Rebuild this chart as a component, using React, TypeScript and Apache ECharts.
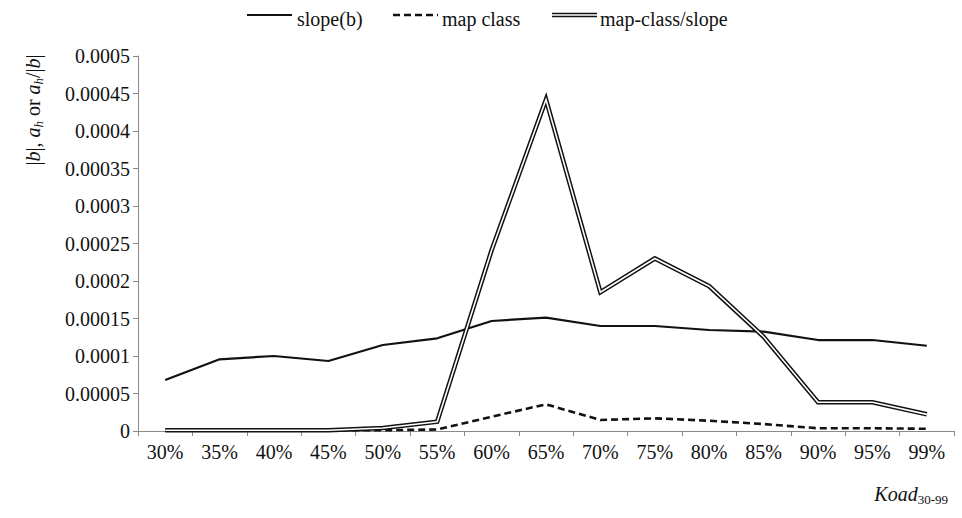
import React, { useEffect, useRef } from "react";
import * as echarts from "echarts";

const categories = ["30%", "35%", "40%", "45%", "50%", "55%", "60%", "65%", "70%", "75%", "80%", "85%", "90%", "95%", "99%"];
const slopeValues = [0.000068, 0.0000956, 0.0001, 0.0000933, 0.0001147, 0.0001236, 0.0001467, 0.0001512, 0.00014, 0.00014, 0.0001347, 0.0001324, 0.0001213, 0.0001213, 0.0001137];
const mapClassValues = [0.000001, 0.000001, 0.000001, 0.000001, 0.000001, 0.000002, 0.000019, 0.0000356, 0.0000147, 0.0000169, 0.0000137, 0.0000093, 0.0000036, 0.0000036, 0.000003];
const ratioValues = [0.000001, 0.000001, 0.000001, 0.000001, 0.000004, 0.0000124, 0.000241, 0.000442, 0.000185, 0.00023, 0.000193, 0.0001257, 0.0000383, 0.0000383, 0.0000222];
const yMin = 0;
const yMax = 0.0005;
const yStep = 0.00005;

const FONT = "Times New Roman, Liberation Serif, Tinos, DejaVu Serif, serif";
const INK = "#111111";
const AXIS = "#8a8a8a";

export default function App() {
  const ref = useRef<HTMLDivElement>(null);
  useEffect(() => {
    if (!ref.current) return;
    const chart = echarts.init(ref.current, null, { renderer: "svg" });
    const legendY = 15;
    const legendTextY = 19;
    const txt = (text: string, x: number) => ({
      type: "text",
      x,
      y: legendTextY,
      style: { text, fontFamily: FONT, fontSize: 20, fill: INK, verticalAlign: "middle" },
    });
    chart.setOption({
      animation: false,
      backgroundColor: "#ffffff",
      textStyle: { fontFamily: FONT },
      grid: { left: 138, right: 8, top: 56, bottom: 87, containLabel: false },
      xAxis: {
        type: "category",
        data: categories,
        boundaryGap: true,
        axisLine: { lineStyle: { color: AXIS, width: 1 } },
        axisTick: { show: true, length: 5, lineStyle: { color: AXIS } },
        axisLabel: { color: INK, fontFamily: FONT, fontSize: 20, margin: 11 },
        splitLine: { show: false },
      },
      yAxis: {
        type: "value",
        min: yMin,
        max: yMax,
        interval: yStep,
        axisLine: { show: true, lineStyle: { color: AXIS, width: 1 } },
        axisTick: { show: true, length: 5, lineStyle: { color: AXIS } },
        axisLabel: {
          color: INK,
          fontFamily: FONT,
          fontSize: 20,
          margin: 8,
          formatter: (v: number) => parseFloat(v.toFixed(6)).toString(),
        },
        splitLine: { show: false },
      },
      series: [
        {
          name: "slope(b)",
          type: "line",
          data: slopeValues,
          symbol: "none",
          lineStyle: { color: INK, width: 2.2 },
          z: 3,
        },
        {
          name: "map class",
          type: "line",
          data: mapClassValues,
          symbol: "none",
          lineStyle: { color: INK, width: 2.6, type: [7, 4] },
          z: 3,
        },
        {
          name: "map-class/slope",
          type: "line",
          data: ratioValues,
          symbol: "none",
          lineStyle: { color: INK, width: 4.6, join: "miter" },
          z: 4,
        },
        {
          name: "map-class/slope inner",
          type: "line",
          data: ratioValues,
          symbol: "none",
          silent: true,
          lineStyle: { color: "#ffffff", width: 1.6, join: "miter" },
          z: 5,
        },
      ],
      graphic: [
        { type: "line", shape: { x1: 247, y1: legendY, x2: 292, y2: legendY }, style: { stroke: INK, lineWidth: 2.2 } },
        txt("slope(b)", 297),
        { type: "line", shape: { x1: 393, y1: legendY, x2: 438, y2: legendY }, style: { stroke: INK, lineWidth: 2.6, lineDash: [7, 4] } },
        txt("map class", 442),
        { type: "line", shape: { x1: 552, y1: legendY, x2: 597, y2: legendY }, style: { stroke: INK, lineWidth: 4.6 } },
        { type: "line", shape: { x1: 552, y1: legendY, x2: 597, y2: legendY }, style: { stroke: "#ffffff", lineWidth: 1.6 } },
        txt("map-class/slope", 600),
        {
          type: "text",
          x: 33,
          y: 110,
          rotation: Math.PI / 2,
          style: {
            text: "{n||}{i|b}{n||, }{i|a}{s|h}{n| or }{i|a}{s|h}{n|/|}{i|b}{n||}",
            align: "center",
            verticalAlign: "middle",
            fill: INK,
            fontFamily: FONT,
            rich: {
              n: { fontFamily: FONT, fontSize: 20, fill: INK, lineHeight: 24 },
              i: { fontFamily: FONT, fontSize: 20, fontStyle: "italic", fill: INK, lineHeight: 24 },
              s: { fontFamily: FONT, fontSize: 13, fontStyle: "italic", fill: INK, lineHeight: 13, padding: [9, 0, 0, 0], verticalAlign: "bottom" },
            },
          },
        },
        {
          type: "text",
          x: 948,
          y: 494,
          style: {
            text: "{i|Koad}{s|30-99}",
            align: "right",
            verticalAlign: "middle",
            fill: INK,
            fontFamily: FONT,
            rich: {
              i: { fontFamily: FONT, fontSize: 20, fontStyle: "italic", fill: INK, lineHeight: 24 },
              s: { fontFamily: FONT, fontSize: 13, fill: INK, lineHeight: 13, padding: [9, 0, 0, 0], verticalAlign: "bottom" },
            },
          },
        },
      ],
    });
    return () => chart.dispose();
  }, []);
  return <div ref={ref} style={{ position: "absolute", left: 0, top: 0, width: 962, height: 518 }} />;
}
